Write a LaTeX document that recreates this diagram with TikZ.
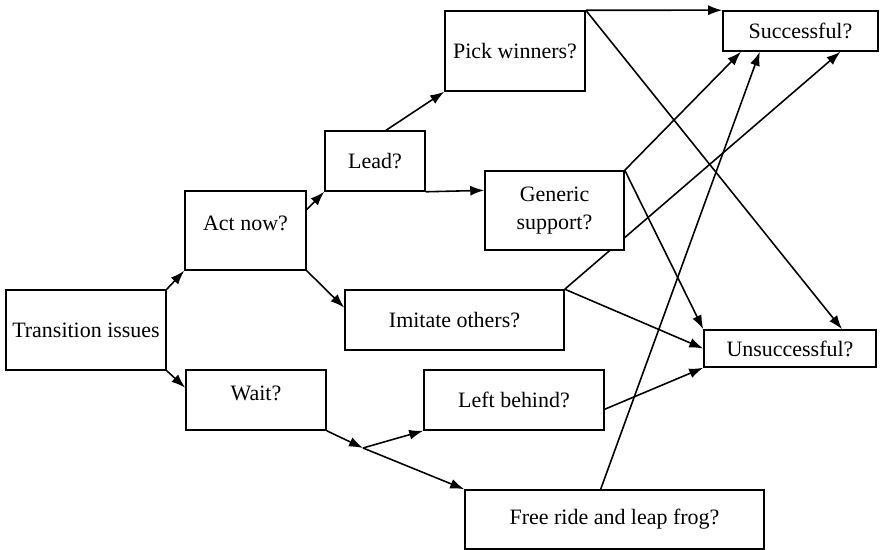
\documentclass[tikz,border=0pt]{standalone}
\usepackage{fontspec}
\setmainfont{Liberation Serif}
\usetikzlibrary{arrows.meta,calc,backgrounds}

\begin{document}
\begin{tikzpicture}[x=0.02cm,y=-0.02cm,>={Latex[length=2.8mm,width=2mm]},
  line width=0.9pt,font=\fontsize{12.5}{15.5}\selectfont,
  box/.style={draw,fill=white,inner sep=2pt,align=center},
  link/.style={->,line width=0.9pt},
  uptext/.style={text depth=0.28cm}]
  \useasboundingbox (0,0) rectangle (880,550);
  % ---------------- decision boxes
  \node[box,minimum width=3.2cm,minimum height=1.6cm] (trans) at (86,330) {Transition issues};
  \node[box,uptext,minimum width=2.42cm,minimum height=1.58cm] (act) at (245.5,230.5) {Act now?};
  \node[box,uptext,minimum width=2.8cm,minimum height=1.2cm] (wait) at (256,400) {Wait?};
  \node[box,minimum width=2cm,minimum height=1.2cm] (lead) at (375,161) {Lead?};
  \node[box,minimum width=2.8cm,minimum height=1.6cm] (pick) at (515,51) {Pick winners?};
  \node[box,minimum width=2.78cm,minimum height=1.58cm] (generic) at (554.5,210.5) {Generic\\support?};
  \node[box,minimum width=4.38cm,minimum height=1.2cm] (imitate) at (454.5,320) {Imitate others?};
  \node[box,minimum width=3.6cm,minimum height=1.2cm] (behind) at (514,400) {Left behind?};
  \node[box,minimum width=5.98cm,minimum height=1.18cm] (free) at (614.5,519.5) {Free ride and leap frog?};
  % ---------------- outcomes
  \node[box,minimum width=3.1cm,minimum height=0.8cm] (succ) at (800.5,31) {Successful?};
  \node[box,minimum width=3.44cm,minimum height=0.74cm] (unsucc) at (790,348.5) {Unsuccessful?};
  \coordinate (fork) at (363,448);
  % ---------------- arrows, kept behind the boxes
  \begin{scope}[on background layer]
    \draw[link] (trans.north east) -- (act.south west);
    \draw[link] (trans.south east) -- ($(wait.north west)!0.3!(wait.south west)$);
    \draw[link] ($(act.north east)!0.24!(act.south east)$) -- (lead.south west);
    \draw[link] (act.south east) -- ($(imitate.north west)!0.3!(imitate.south west)$);
    \draw[link] ($(lead.north west)!0.61!(lead.north east)$) -- (pick.south west);
    \draw[link] (lead.south east) -- ($(generic.north west)!0.25!(generic.south west)$);
    \draw[link] (wait.south east) -- (fork);
    \draw[link] (fork) -- (behind.south west);
    \draw[link] (fork) -- (free.north west);
    % to the outcomes
    \draw[link] (pick.north east) -- (succ.north west);
    \draw[link] (pick.north east) -- ($(unsucc.north west)!0.8!(unsucc.north east)$);
    \draw[link] (generic.north east) -- ($(succ.south west)!0.12!(succ.south east)$);
    \draw[link] (generic.north east) -- (unsucc.north west);
    \draw[link] (imitate.north east) -- ($(succ.south west)!0.755!(succ.south east)$);
    \draw[link] (imitate.north east) -- (unsucc.west);
    \draw[link] ($(behind.north east)!0.65!(behind.south east)$) -- (unsucc.south west);
    \draw[link] ($(free.north west)!0.454!(free.north east)$) -- ($(succ.south west)!0.24!(succ.south east)$);
  \end{scope}
\end{tikzpicture}
\end{document}
